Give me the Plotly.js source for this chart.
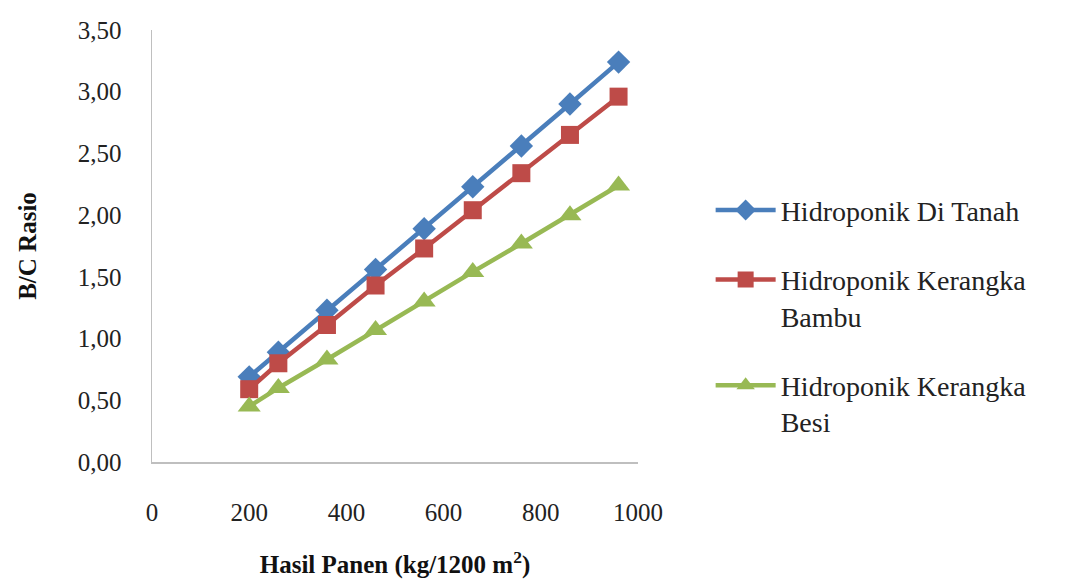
<!DOCTYPE html>
<html>
<head>
<meta charset="utf-8">
<script src="https://cdn.plot.ly/plotly-3.0.1.min.js"></script>
<style>html,body{margin:0;padding:0;background:#fff;}#chart{width:1080px;height:579px;}</style>
</head>
<body>
<div id="chart"></div>
<script>
var hasilPanen = [200, 260, 360, 460, 560, 660, 760, 860, 960];
var diTanah = [0.69, 0.89, 1.23, 1.56, 1.89, 2.23, 2.56, 2.90, 3.24];
var kerangkaBambu = [0.59, 0.80, 1.11, 1.43, 1.73, 2.04, 2.34, 2.65, 2.96];
var kerangkaBesi = [0.45, 0.60, 0.83, 1.07, 1.30, 1.54, 1.77, 2.00, 2.24];
var seriesNames = ["Hidroponik Di Tanah", "Hidroponik Kerangka<br>Bambu", "Hidroponik Kerangka<br>Besi"];
var yTicks = [0, 0.5, 1, 1.5, 2, 2.5, 3, 3.5];
var xTicks = [0, 200, 400, 600, 800, 1000];

var serif = "Liberation Serif";

var traces = [
  {x: hasilPanen, y: diTanah, name: seriesNames[0], legendgroup: "a", mode: "lines+markers",
   line: {color: "#4a7ebb", width: 4.5}, marker: {symbol: "diamond", size: 18, color: "#4a7ebb"}},
  {x: hasilPanen, y: kerangkaBambu, name: seriesNames[1], legendgroup: "b", mode: "lines+markers",
   line: {color: "#be4b48", width: 4.5}, marker: {symbol: "square", size: 18, color: "#be4b48"}},
  {x: hasilPanen, y: kerangkaBesi, name: seriesNames[2], legendgroup: "c", mode: "lines+markers",
   line: {color: "#98b954", width: 4.5}, marker: {symbol: "triangle-up", size: 20, color: "#98b954"}}
];

var layout = {
  width: 1080, height: 579,
  margin: {l: 152, r: 442, t: 30, b: 117},
  paper_bgcolor: "#fff", plot_bgcolor: "#fff",
  separators: ",.",
  showlegend: true,
  font: {family: serif, color: "#222", size: 22},
  xaxis: {
    range: [0, 1000], tickvals: xTicks, ticks: "", showgrid: false, zeroline: false,
    showline: true, linecolor: "#bfbfbf", linewidth: 1.5,
    tickfont: {family: serif, size: 25, color: "#222"}, ticklabelstandoff: 27,
    title: {text: "<b>Hasil Panen (kg/1200 m<sup>2</sup>)</b>", font: {family: serif, size: 25, color: "#111"}, standoff: 35}
  },
  yaxis: {
    range: [0, 3.5], tickvals: yTicks, tickformat: ".2f", ticks: "", showgrid: false, zeroline: false,
    showline: true, linecolor: "#bfbfbf", linewidth: 1.5,
    tickfont: {family: serif, size: 25, color: "#222"}, ticklabelstandoff: 24,
    title: {text: "<b>B/C Rasio</b>", font: {family: serif, size: 25, color: "#111"}, standoff: 34}
  },
  legend: {
    xref: "container", yref: "container", x: 0.658, y: 0.68, xanchor: "left", yanchor: "top",
    valign: "top", tracegroupgap: 30, itemwidth: 60,
    font: {family: serif, size: 28, color: "#222"}, bgcolor: "rgba(0,0,0,0)"
  }
};

Plotly.newPlot("chart", traces, layout, {displayModeBar: false, staticPlot: true});
</script>
</body>
</html>
